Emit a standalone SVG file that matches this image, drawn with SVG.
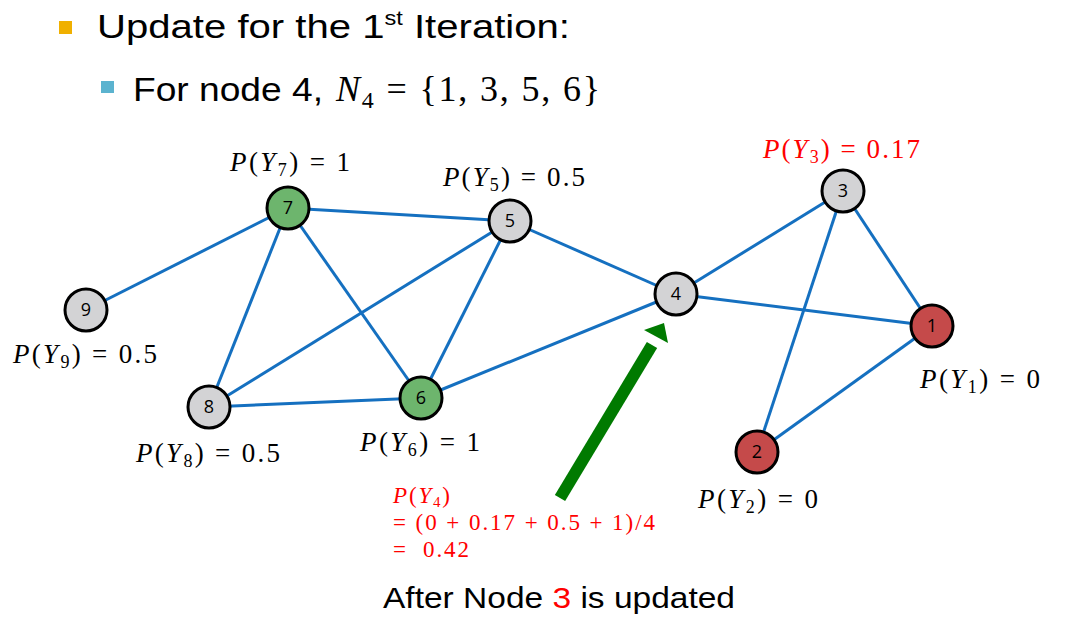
<svg xmlns="http://www.w3.org/2000/svg" width="1071" height="633" viewBox="0 0 1071 633">
<style>
.edge{stroke:#1570C0;stroke-width:3;fill:none}
.node circle{stroke:#000;stroke-width:3}
.gray{fill:#D3D3D5}
.green{fill:#6DB56D}
.red{fill:#C54A4A}
.nl{font-family:"Open Sans","Liberation Sans",sans-serif;font-size:18px;text-anchor:middle;fill:#000}
.m{font-family:"Liberation Serif","DejaVu Serif",serif}
.i{font-style:italic}
.title{font-family:"Liberation Sans","Open Sans",sans-serif;fill:#000}
</style>
<rect width="1071" height="633" fill="#fff"/>
<g id="header">
<rect x="59" y="21" width="13" height="13" fill="#F0B000"/>
<text class="title" x="97" y="38" font-size="34" textLength="473" lengthAdjust="spacingAndGlyphs">Update for the 1<tspan font-size="20" dy="-13">st</tspan><tspan dy="13"> Iteration:</tspan></text>
<rect x="101" y="81" width="13" height="12" fill="#5BB3CF"/>
<text class="title" x="133" y="101" font-size="34" textLength="190" lengthAdjust="spacingAndGlyphs">For node 4,</text>
<text class="m" x="336" y="101" font-size="36" fill="#000" textLength="264" lengthAdjust="spacing"><tspan class="i">N</tspan><tspan font-size="24" dy="7">4</tspan><tspan dy="-7"> = {1, 3, 5, 6}</tspan></text>
</g>
<g id="connectors">
<line class="edge" x1="288" y1="208" x2="86" y2="310"/>
<line class="edge" x1="288" y1="208" x2="510" y2="221"/>
<line class="edge" x1="288" y1="208" x2="209" y2="407"/>
<line class="edge" x1="288" y1="208" x2="421" y2="398"/>
<line class="edge" x1="510" y1="221" x2="209" y2="407"/>
<line class="edge" x1="510" y1="221" x2="421" y2="398"/>
<line class="edge" x1="510" y1="221" x2="676" y2="294"/>
<line class="edge" x1="209" y1="407" x2="421" y2="398"/>
<line class="edge" x1="421" y1="398" x2="676" y2="294"/>
<line class="edge" x1="676" y1="294" x2="843" y2="191"/>
<line class="edge" x1="676" y1="294" x2="932" y2="326"/>
<line class="edge" x1="843" y1="191" x2="932" y2="326"/>
<line class="edge" x1="843" y1="191" x2="757" y2="452"/>
<line class="edge" x1="932" y1="326" x2="757" y2="452"/>
</g>
<g id="node7" class="node"><circle class="green" cx="288" cy="208" r="21"/><text class="nl" x="288" y="214">7</text></g>
<g id="node5" class="node"><circle class="gray" cx="510" cy="221" r="21"/><text class="nl" x="510" y="227">5</text></g>
<g id="node9" class="node"><circle class="gray" cx="86" cy="310" r="21"/><text class="nl" x="86" y="316">9</text></g>
<g id="node8" class="node"><circle class="gray" cx="209" cy="407" r="21"/><text class="nl" x="209" y="413">8</text></g>
<g id="node6" class="node"><circle class="green" cx="421" cy="398" r="21"/><text class="nl" x="421" y="404">6</text></g>
<g id="node4" class="node"><circle class="gray" cx="676" cy="294" r="21"/><text class="nl" x="676" y="300">4</text></g>
<g id="node3" class="node"><circle class="gray" cx="843" cy="191" r="21"/><text class="nl" x="843" y="197">3</text></g>
<g id="node1" class="node"><circle class="red" cx="932" cy="326" r="21"/><text class="nl" x="932" y="332">1</text></g>
<g id="node2" class="node"><circle class="red" cx="757" cy="452" r="21"/><text class="nl" x="757" y="458">2</text></g>
<g id="labels" font-size="27">
<text class="m" x="230" y="171" textLength="120"><tspan class="i">P</tspan>(<tspan class="i">Y</tspan><tspan font-size="18" dy="5">7</tspan><tspan dy="-5">) = 1</tspan></text>
<text class="m" x="443" y="186" textLength="142"><tspan class="i">P</tspan>(<tspan class="i">Y</tspan><tspan font-size="18" dy="5">5</tspan><tspan dy="-5">) = 0.5</tspan></text>
<text class="m" x="13" y="363" textLength="144"><tspan class="i">P</tspan>(<tspan class="i">Y</tspan><tspan font-size="18" dy="5">9</tspan><tspan dy="-5">) = 0.5</tspan></text>
<text class="m" x="136" y="462" textLength="144"><tspan class="i">P</tspan>(<tspan class="i">Y</tspan><tspan font-size="18" dy="5">8</tspan><tspan dy="-5">) = 0.5</tspan></text>
<text class="m" x="360" y="451" textLength="120"><tspan class="i">P</tspan>(<tspan class="i">Y</tspan><tspan font-size="18" dy="5">6</tspan><tspan dy="-5">) = 1</tspan></text>
<text class="m" x="763" y="158" textLength="157" fill="#FF0000"><tspan class="i">P</tspan>(<tspan class="i">Y</tspan><tspan font-size="18" dy="5">3</tspan><tspan dy="-5">) = 0.17</tspan></text>
<text class="m" x="920" y="388" textLength="120"><tspan class="i">P</tspan>(<tspan class="i">Y</tspan><tspan font-size="18" dy="5">1</tspan><tspan dy="-5">) = 0</tspan></text>
<text class="m" x="698" y="508" textLength="120"><tspan class="i">P</tspan>(<tspan class="i">Y</tspan><tspan font-size="18" dy="5">2</tspan><tspan dy="-5">) = 0</tspan></text>
<g id="formula" fill="#FF0000" font-size="23">
<text class="m" x="393" y="503" textLength="57"><tspan class="i">P</tspan>(<tspan class="i">Y</tspan><tspan font-size="15" dy="4">4</tspan><tspan dy="-4">)</tspan></text>
<text class="m" x="393" y="530" textLength="262">= (0 + 0.17 + 0.5 + 1)/4</text>
<text class="m" x="393" y="557" textLength="76" xml:space="preserve">=  0.42</text>
</g>
<text class="title" x="383" y="608" font-size="29" textLength="352" lengthAdjust="spacingAndGlyphs">After Node <tspan fill="#FF0000">3</tspan> is updated</text>
</g>
<g id="arrow">
<line x1="560" y1="498" x2="652" y2="345" stroke="#007A00" stroke-width="12"/>
<polygon points="664,323 644,330 668,343" fill="#007A00"/>
</g>
</svg>
